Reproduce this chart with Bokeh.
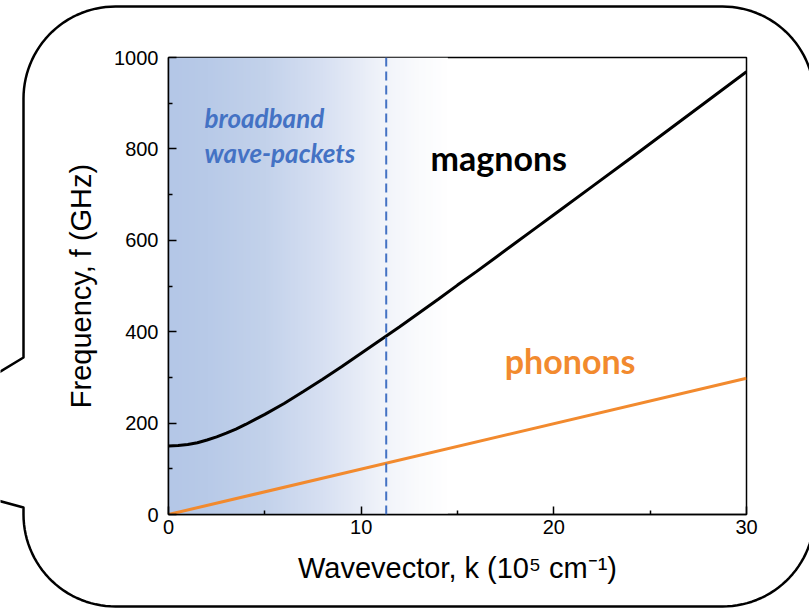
import numpy as np
from bokeh.plotting import figure
from bokeh.layouts import column
from bokeh.models import Range1d, FixedTicker, Span
from bokeh.core.properties import value
from bokeh.embed import file_html
from bokeh.resources import INLINE

# Magnon dispersion (k in 1e5 cm^-1, f in GHz)
k_magnon = [0, 0.5, 1, 1.5, 2, 2.5, 3, 3.5, 4, 4.5, 5, 6, 7, 8, 9, 10, 11, 12,
            13, 14, 15, 16, 17, 18, 19, 20, 22, 24, 26, 28, 30]
f_magnon = [150, 151, 153, 157, 163, 170, 178, 187, 197, 208, 219, 243, 269,
            296, 324, 353, 382, 411, 441, 471, 502, 532, 563, 594, 625, 656,
            718, 780, 843, 906, 969]

# Phonon (acoustic) branch
k_phonon = [0, 30]
f_phonon = [0, 298]

# Upper k limit of the broadband wave-packet region
k_cutoff = 11.3

x_ticks = [0, 10, 20, 30]
x_minor = [5, 15, 25]
y_ticks = [0, 200, 400, 600, 800, 1000]
y_minor = [100, 300, 500, 700, 900]

# Colour stops of the shaded wave-packet region (k, r, g, b)
shade_k = [0, 2, 5, 8, 11, 13, 14.5]
shade_r = [180, 184, 195, 215, 240, 250, 255]
shade_g = [199, 202, 210, 224, 243, 251, 255]
shade_b = [231, 232, 235, 242, 250, 253, 255]

FONT = "Liberation Sans"
W, H = 809, 608

# ---- background page with the speech-bubble outline ----
bg = figure(width=W, height=H, x_range=Range1d(0, W), y_range=Range1d(H, 0),
            output_backend="svg", toolbar_location=None,
            x_axis_location=None, y_axis_location=None, min_border=0)
bg.grid.visible = False
bg.outline_line_color = None
bg.background_fill_color = "white"
bg.border_fill_color = "white"
bg.frame_align = False

left, top, right, bottom, rad = 23, 6, 814, 606, 92


def arc(cx, cy, a0, a1, n=30):
    t = np.radians(np.linspace(a0, a1, n))
    return list(cx + rad * np.cos(t)), list(cy + rad * np.sin(t))


bx, by = [-40, left], [395, 357]
for cx, cy, a0, a1 in ((left + rad, top + rad, 180, 270),
                       (right - rad, top + rad, 270, 360),
                       (right - rad, bottom - rad, 0, 90),
                       (left + rad, bottom - rad, 90, 180)):
    ax_, ay_ = arc(cx, cy, a0, a1)
    bx += ax_
    by += ay_
bx += [left, -40]
by += [507, 490]
bg.line(bx, by, line_color="black", line_width=2.5, line_join="round")

# ---- dispersion chart ----
p = figure(width=W, height=H, x_range=Range1d(0, 30), y_range=Range1d(0, 1000),
           output_backend="svg", toolbar_location=None,
           min_border_left=168, min_border_right=63,
           min_border_top=57, min_border_bottom=94)
p.grid.visible = False
p.background_fill_alpha = 0
p.border_fill_alpha = 0
p.outline_line_color = "black"
p.outline_line_width = 1.5
p.outline_line_alpha = 1.0
p.frame_align = False
p.margin = (-H, 0, 0, 0)

# horizontal gradient for the shaded region
ncol = 300
kk = np.linspace(0, shade_k[-1], ncol)
r = np.interp(kk, shade_k, shade_r).astype(np.uint32)
g = np.interp(kk, shade_k, shade_g).astype(np.uint32)
b = np.interp(kk, shade_k, shade_b).astype(np.uint32)
img = (255 << 24) | (b << 16) | (g << 8) | r
img = img.reshape(1, ncol).astype(np.uint32)
p.image_rgba(image=[img], x=0, y=0, dw=shade_k[-1], dh=1000)

p.add_layout(Span(location=k_cutoff, dimension="height", line_color="#4472c4",
                  line_width=2, line_dash="9 5"))

p.line(k_phonon, f_phonon, line_color="#f28a2e", line_width=3)
p.line(k_magnon, f_magnon, line_color="black", line_width=3)

# annotations
p.text(x=[1.87, 1.87], y=[868, 792], text=["broadband", "wave-packets"],
       text_font=value("Lato"), text_font_style="bold italic", text_font_size="26px",
       text_color="#4472c4", text_baseline="middle", text_align="left")
p.text(x=[13.6], y=[781], text=["magnons"], text_font=value("Lato"),
       text_font_style="bold", text_font_size="34px", text_color="black",
       text_baseline="middle", text_align="left")
p.text(x=[17.45], y=[337], text=["phonons"], text_font=value("Lato"),
       text_font_style="bold", text_font_size="34px", text_color="#f28a2e",
       text_baseline="middle", text_align="left")

for ax, ticks, minor in ((p.xaxis[0], x_ticks, x_minor), (p.yaxis[0], y_ticks, y_minor)):
    ax.ticker = FixedTicker(ticks=ticks, minor_ticks=minor)
    ax.major_tick_in = 8
    ax.major_tick_out = 0
    ax.minor_tick_in = 4
    ax.minor_tick_out = 0
    ax.axis_line_color = "black"
    ax.axis_line_width = 1.5
    ax.major_tick_line_color = "black"
    ax.minor_tick_line_color = "black"
    ax.major_tick_line_width = 1.5
    ax.minor_tick_line_width = 1.5
    ax.major_label_text_font = FONT
    ax.major_label_text_font_size = "20px"
    ax.major_label_text_color = "black"
    ax.axis_label_text_font = FONT
    ax.axis_label_text_font_style = "normal"
    ax.axis_label_text_font_size = "29px"
    ax.axis_label_text_color = "black"

p.xaxis.axis_label = "Wavevector, k (10\u2075 cm\u207b\u00b9)"
p.xaxis.major_label_standoff = 5
p.xaxis.axis_label_standoff = 15
p.yaxis.axis_label = "Frequency, f (GHz)"
p.yaxis.major_label_standoff = 10
p.yaxis.axis_label_standoff = 14

layout = column(bg, p, spacing=0)
open("out.html", "w").write(file_html(layout, INLINE))
